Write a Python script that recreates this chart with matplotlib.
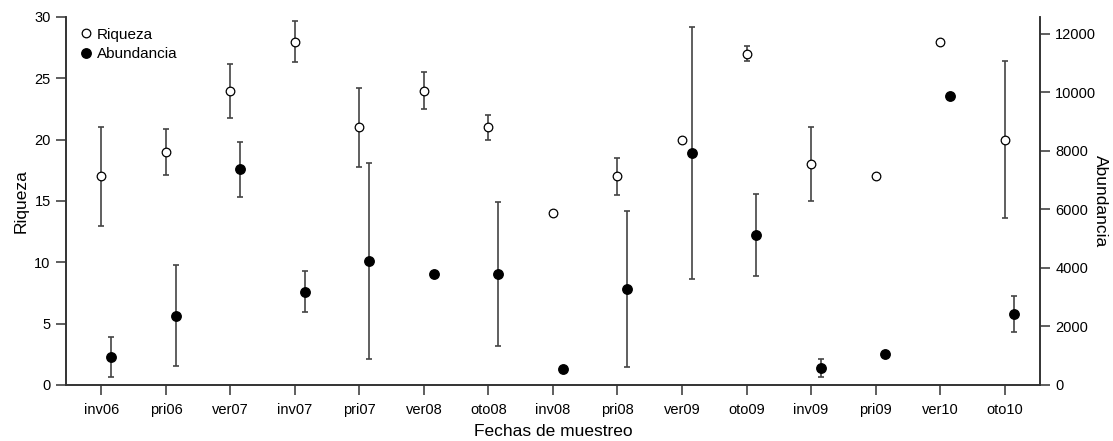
"""Riqueza y abundancia por fecha de muestreo (dos ejes y)."""

import numpy as np
import matplotlib
matplotlib.use("Agg")
import matplotlib.pyplot as plt

plt.rcParams["font.family"] = ["Liberation Sans", "DejaVu Sans"]

fechas = ["inv06", "pri06", "ver07", "inv07", "pri07", "ver08", "oto08", "inv08",
          "pri08", "ver09", "oto09", "inv09", "pri09", "ver10", "oto10"]

riqueza = [17, 19, 24, 28, 21, 24, 21, 14, 17, 20, 27, 18, 17, 28, 20]
riqueza_err = [4.0, 1.9, 2.2, 1.7, 3.2, 1.5, 1.0, 0, 1.5, 0, 0.6, 3.0, 0, 0, 6.4]

abundancia = [960, 2370, 7380, 3190, 4240, 3780, 3790, 560, 3280, 7940, 5120,
              590, 1050, 9890, 2430]
abundancia_err = [670, 1720, 940, 690, 3350, 0, 2460, 0, 2670, 4300, 1410,
                  310, 0, 0, 620]

AXCOL = "#333333"


def main():
    fig = plt.figure(figsize=(11.13, 4.41), dpi=100)
    ax = fig.add_axes([0.0593, 0.127, 0.8751, 0.8345])
    ax2 = ax.twinx()

    x = np.arange(1, len(fechas) + 1)

    # riqueza: circulos abiertos, eje izquierdo
    ax.errorbar(x, riqueza, yerr=riqueza_err, fmt="none", ecolor="#444444",
                elinewidth=1.2, capsize=2.5, capthick=1.2)
    h1, = ax.plot(x, riqueza, "o", mfc="white", mec="black", mew=0.9, ms=6.2,
                  label="Riqueza")

    # abundancia: circulos llenos, eje derecho, algo desplazados
    xa = x + 0.15
    ax2.errorbar(xa, abundancia, yerr=abundancia_err, fmt="none",
                 ecolor="#444444", elinewidth=1.2, capsize=2.5, capthick=1.2)
    h2, = ax2.plot(xa, abundancia, "o", color="black", ms=6.8,
                   label="Abundancia")

    ax.set_xlim(0.45, 15.55)
    ax.set_ylim(0, 30)
    ax2.set_ylim(0, 12580)
    ax.set_xticks(x)
    ax.set_xticklabels(fechas)
    ax.set_yticks(range(0, 31, 5))
    ax2.set_yticks(range(0, 12001, 2000))

    for a in (ax, ax2):
        a.spines["top"].set_visible(False)
        for s in ("left", "right", "bottom"):
            a.spines[s].set_color(AXCOL)
            a.spines[s].set_linewidth(1.2)
        a.tick_params(direction="out", length=7, width=1.1, color=AXCOL,
                      labelsize=10.5, pad=4)
    ax.tick_params(axis="x", pad=6)

    ax.set_xlabel("Fechas de muestreo", fontsize=12.5, labelpad=5)
    ax.set_ylabel("Riqueza", fontsize=12.5, labelpad=4)
    ax2.set_ylabel("Abundancia", fontsize=12.5, rotation=270, labelpad=8)

    ax2.legend(handles=[h1, h2], loc="upper left", frameon=False,
               fontsize=11, handletextpad=0.1, borderaxespad=0.3,
               labelspacing=0.35, handlelength=1.2,
               bbox_to_anchor=(0.0, 1.0))

    fig.savefig("out.png", dpi=100)


if __name__ == "__main__":
    main()
